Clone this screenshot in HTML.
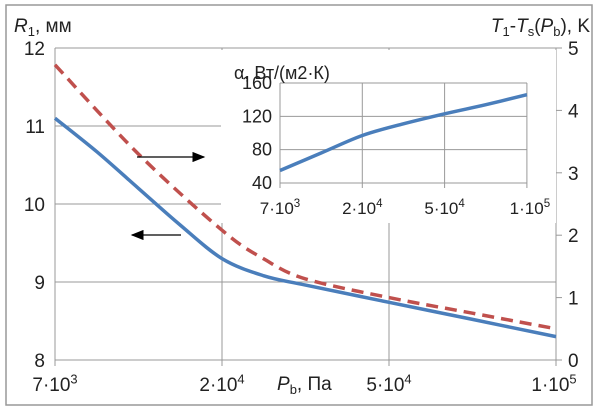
<!DOCTYPE html>
<html><head><meta charset="utf-8"><style>
body{margin:0;background:#fff}
svg{display:block;font-family:"Liberation Sans",sans-serif}
</style></head><body>
<svg id="c" width="600" height="411">
<rect x="6" y="5" width="586" height="400" fill="#fff" stroke="#999" stroke-width="1.5"/>
<g id="main"></g>
<g id="inset"></g>
</svg>
<script>
const xCatBase=["7·10","2·10","5·10","1·10"];
const xCatExp=["3","4","4","5"];
const rTicks=[8,9,10,11,12];
const tTicks=[0,1,2,3,4,5];
const aTicks=[40,80,120,160];
const xPos=[0,0.25,0.5,0.75,1,1.25,1.5,2,2.5,3];
const r1=[11.1,10.67,10.2,9.73,9.3,9.08,8.96,8.74,8.52,8.3];
const xPosT=[0,0.5,1,1.25,1.5,2,2.5,3];
const dT=[4.73,3.3,2.08,1.62,1.3,1.0,0.75,0.5];
const xPosA=[0,0.5,1,1.5,2,2.5,3];
const alpha=[55,76,97,111,123,134,146];
const NS="http://www.w3.org/2000/svg";
function mk(p,t,a){const e=document.createElementNS(NS,t);for(const k in a)e.setAttribute(k,a[k]);p.appendChild(e);return e;}
const main=document.getElementById('main'),ins=document.getElementById('inset');
const X=i=>55+i*167, YR=v=>360-(v-8)*78, YT=v=>360-v*62.4;
function lbl(p,x,y,i,fs){const t=mk(p,'text',{x:x,y:y,'text-anchor':'middle','font-size':fs,fill:'#222'});
const a=mk(t,'tspan',{});a.textContent=xCatBase[i];const b=mk(t,'tspan',{dy:-fs*0.4,'font-size':fs*0.68});b.textContent=xCatExp[i];return t;}
rTicks.forEach(v=>{const l=mk(main,'line',{x1:55,x2:556,y1:YR(v),y2:YR(v),stroke:'#999','stroke-width':1});

const t=mk(main,'text',{x:45,y:YR(v)+7,'text-anchor':'end','font-size':19,fill:'#222'});t.textContent=v;
});
xCatBase.forEach((c,i)=>{const l=mk(main,'line',{x1:X(i),x2:X(i),y1:48,y2:366,stroke:'#999','stroke-width':1});

const t=lbl(main,X(i)+(i==3?-2:0),391,i,19);
});
tTicks.forEach(v=>{const l=mk(main,'line',{x1:556,x2:562,y1:YT(v),y2:YT(v),stroke:'#999'});

const t=mk(main,'text',{x:568,y:YT(v)+7,'font-size':19,fill:'#222'});t.textContent=v;
});
function path(xs,ys,fx,fy){const P=xs.map((x,i)=>[fx(x),fy(ys[i])]);let d='M'+P[0][0].toFixed(1)+' '+P[0][1].toFixed(1);
for(let i=0;i<P.length-1;i++){const p0=P[i-1]||P[i],p1=P[i],p2=P[i+1],p3=P[i+2]||p2;
const c1=[p1[0]+(p2[0]-p0[0])/6,p1[1]+(p2[1]-p0[1])/6],c2=[p2[0]-(p3[0]-p1[0])/6,p2[1]-(p3[1]-p1[1])/6];
d+=' C'+c1.map(v=>v.toFixed(1)).join(' ')+' '+c2.map(v=>v.toFixed(1)).join(' ')+' '+p2.map(v=>v.toFixed(1)).join(' ');}return d;}
const red=mk(main,'path',{d:path(xPosT,dT,X,YT),fill:'none',stroke:'#c0504d','stroke-width':3.5,'stroke-dasharray':'12 7','stroke-linejoin':'round'});

const blue=mk(main,'path',{d:path(xPos,r1,X,YR),fill:'none',stroke:'#4a7ebb','stroke-width':3.5,'stroke-linejoin':'round'});

const bg=mk(ins,'rect',{x:221,y:50,width:335,height:173,fill:'#fff'});

const XI=i=>280+i*82.3, YA=v=>183-(v-40)*100/120;
aTicks.forEach(v=>{const l=mk(ins,'line',{x1:280,x2:527,y1:YA(v),y2:YA(v),stroke:'#999'});

const t=mk(ins,'text',{x:272,y:YA(v)+6,'text-anchor':'end','font-size':18,fill:'#222'});t.textContent=v;
});
xCatBase.forEach((c,i)=>{const l=mk(ins,'line',{x1:XI(i),x2:XI(i),y1:83,y2:188,stroke:'#999'});

const t=lbl(ins,XI(i)+(i==3?3:0),214,i,17);
});
const ab=mk(ins,'path',{d:path(xPosA,alpha,XI,YA),fill:'none',stroke:'#4a7ebb','stroke-width':3.5});

</script>
<svg width="600" height="411" style="position:absolute;left:0;top:0;font-family:'Liberation Sans',sans-serif">
<defs><marker id="ah" markerWidth="10" markerHeight="8" refX="9" refY="4" orient="auto"><path d="M0 0L10 4L0 8z" fill="#000"/></marker></defs>
<line x1="137" y1="157" x2="204" y2="157" stroke="#000" stroke-width="1.3" marker-end="url(#ah)"/>
<line x1="181" y1="235" x2="132" y2="235" stroke="#000" stroke-width="1.3" marker-end="url(#ah)"/>
<text x="14" y="32" font-size="19" fill="#222"><tspan font-style="italic">R</tspan><tspan font-size="13" dy="4">1</tspan><tspan dy="-4">, мм</tspan></text>
<text x="590" y="32" text-anchor="end" font-size="19" fill="#222"><tspan font-style="italic">T</tspan><tspan font-size="13" dy="4">1</tspan><tspan dy="-4">-</tspan><tspan font-style="italic">T</tspan><tspan font-size="13" dy="4">s</tspan><tspan dy="-4">(</tspan><tspan font-style="italic">P</tspan><tspan font-size="13" dy="4">b</tspan><tspan dy="-4">), K</tspan></text>
<text x="277" y="390" font-size="19" fill="#222"><tspan font-style="italic">P</tspan><tspan font-size="13" dy="4">b</tspan><tspan dy="-4">, Па</tspan></text>
<text x="234" y="79" font-size="18" fill="#222">α, Вт/(м2·К)</text>
</svg>
</body></html>
